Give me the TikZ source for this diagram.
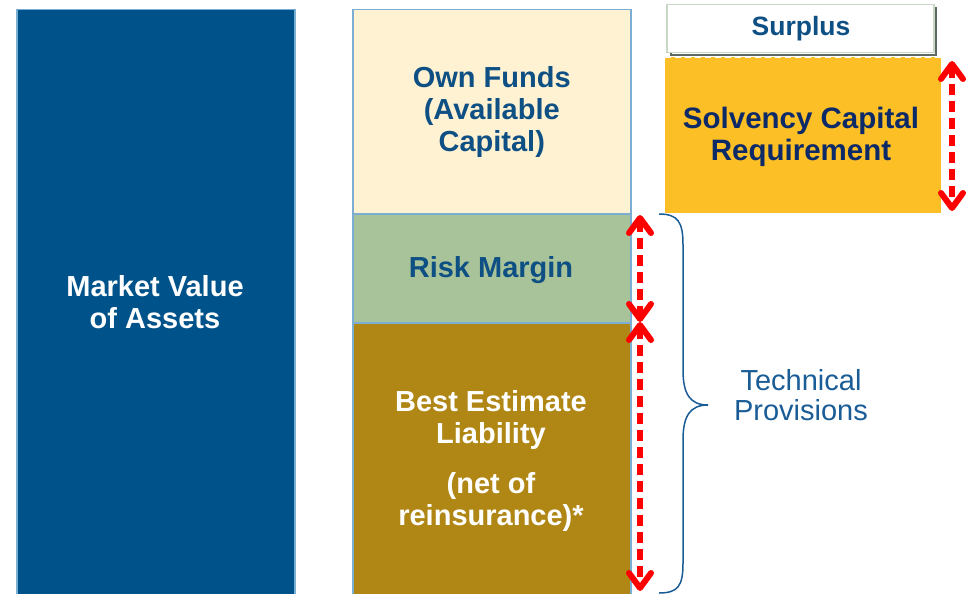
\documentclass[tikz,border=0pt]{standalone}
\usepackage{fontspec}
\setmainfont{Liberation Sans}
\usetikzlibrary{arrows.meta}
\definecolor{assetblue}{HTML}{00538A}
\definecolor{edgeblue}{HTML}{7AAED3}
\definecolor{ownfill}{HTML}{FFF2D3}
\definecolor{riskfill}{HTML}{A8C399}
\definecolor{belfill}{HTML}{B08715}
\definecolor{scrfill}{HTML}{FDBF26}
\definecolor{labelblue}{HTML}{0E4F84}
\definecolor{navy}{HTML}{0C2A68}
\definecolor{braceblue}{HTML}{1A5C96}
\definecolor{arrowred}{HTML}{FF0000}
\definecolor{surplusedge}{HTML}{C9D8C4}
\definecolor{surplusdark}{HTML}{5E6A62}
\begin{document}
\begin{tikzpicture}[x=1pt,y=-1pt,
  block/.style={draw=edgeblue,line width=1.5pt,anchor=north west,inner sep=0pt,
    align=center,font=\fontsize{29}{32}\selectfont\bfseries},
  barb/.tip={Straight Barb[length=15pt,width=22pt,line width=6pt,round]},
  span/.style={arrowred,line width=6pt,dash pattern=on 11pt off 6pt,barb-barb}
]
\useasboundingbox (0,0) rectangle (969,594);
\clip (0,0) rectangle (969,594);

% assets column
\node[block,fill=assetblue,minimum width=278pt,minimum height=600pt] (assets) at (16,9) {};
\node[text=white,align=center,font=\fontsize{29}{32}\selectfont\bfseries] (assetstext) at (155,302) {Market Value\\of Assets};

% liabilities column
\node[block,fill=ownfill,text=labelblue,minimum width=278pt,minimum height=204pt] (own) at (352,9) {Own Funds\\(Available\\Capital)};
\node[block,fill=riskfill,minimum width=278pt,minimum height=109pt] (risk) at (352,213) {};
\node[text=labelblue,font=\fontsize{29}{32}\selectfont\bfseries] (risktext) at (491,270) {Risk Margin};
\node[block,fill=belfill,minimum width=278pt,minimum height=290pt] (bel) at (352,322) {};
\node[text=white,align=center,font=\fontsize{29}{32}\selectfont\bfseries] (beltext) at (491,461)
  {Best Estimate\\Liability\\[18pt](net of\\reinsurance)*};

% capital requirement and surplus
\node[fill=scrfill,anchor=north west,inner sep=0pt,minimum width=276pt,minimum height=156pt] (scr) at (665,57) {};
\node[text=navy,align=center,font=\fontsize{29.5}{32}\selectfont\bfseries] (scrtext) at (801,137) {Solvency Capital\\Requirement};
\draw[white,line width=1.5pt,dash pattern=on 6pt off 4pt] (scr.north west) -- (scr.north east);
\draw[surplusdark,line width=1.5pt] (671,8) rectangle (936,55);
\node[draw=surplusedge,line width=1.5pt,fill=white,anchor=north west,inner sep=0pt,
  minimum width=267pt,minimum height=48pt] (surplus) at (666,4) {};
\node[text=labelblue,font=\fontsize{26.5}{28}\selectfont\bfseries] (surplustext) at (801,29) {Surplus};

% size markers
\coordinate (scrtop) at (952,61);
\coordinate (scrbot) at (952,211);
\draw[span] (scrtop) -- (scrbot);
\coordinate (rmtop) at (640,215);
\coordinate (rmbot) at (640,322);
\coordinate (belbot) at (640,591);
\draw[span] (rmtop) -- (rmbot);
\draw[span] (rmbot) -- (belbot);

% brace grouping risk margin and best estimate
\coordinate (btop) at (659,214);
\coordinate (btip) at (708,405);
\coordinate (bbot) at (659,593);
\draw[braceblue,line width=1.5pt]
  (btop) .. controls (678,214) and (683,222) .. (683,245) -- (683,370)
  .. controls (683,394) and (690,405) .. (btip)
  .. controls (690,405) and (683,416) .. (683,440) -- (683,563)
  .. controls (683,586) and (678,593) .. (bbot);
\node[text=braceblue,align=center,font=\fontsize{29}{30}\selectfont] (tp) at (801,395) {Technical\\Provisions};
\end{tikzpicture}
\end{document}
